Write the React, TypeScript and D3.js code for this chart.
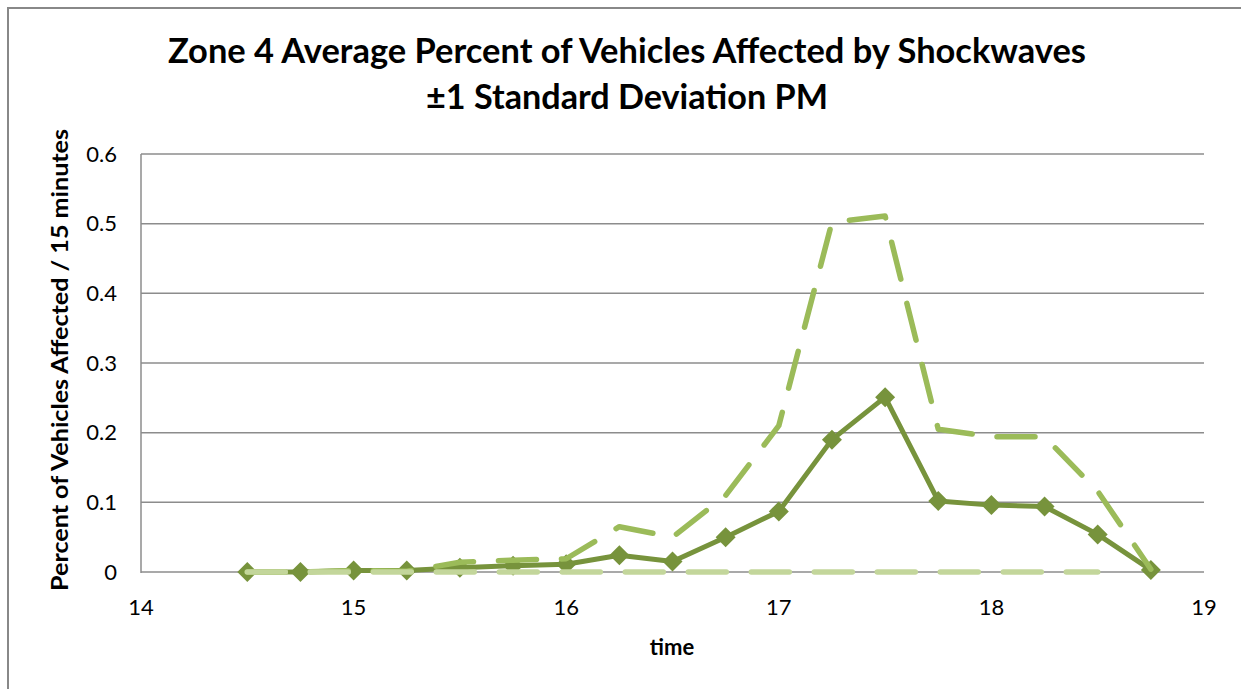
import React from "react";
import * as d3 from "d3";

const times = [14.5, 14.75, 15, 15.25, 15.5, 15.75, 16, 16.25, 16.5, 16.75, 17, 17.25, 17.5, 17.75, 18, 18.25, 18.5, 18.75];
const meanValues = [0, 0, 0.002, 0.002, 0.006, 0.009, 0.011, 0.024, 0.015, 0.05, 0.087, 0.19, 0.251, 0.102, 0.096, 0.094, 0.054, 0.003];
const upperValues = [0, 0, 0.002, 0.001, 0.014, 0.017, 0.019, 0.065, 0.05, 0.11, 0.21, 0.502, 0.511, 0.205, 0.194, 0.194, 0.116, 0.004];
const lowerValues = [0, 0, 0, 0, 0, 0, 0, 0, 0, 0, 0, 0, 0, 0, 0, 0, 0];
const xTicks = [14, 15, 16, 17, 18, 19];
const yTicks = [0, 0.1, 0.2, 0.3, 0.4, 0.5, 0.6];
const titleLines = ["Zone 4 Average Percent of Vehicles Affected by Shockwaves", "±1 Standard Deviation PM"];
const xTitle = "time";
const yTitle = "Percent of Vehicles Affected / 15 minutes";

const W = 1241;
const H = 689;
const FONT = "Lato, 'Open Sans', sans-serif";

export default function App() {
  const x = d3.scaleLinear().domain([14, 19]).range([141, 1204]);
  const y = d3.scaleLinear().domain([0, 0.6]).range([572, 154]);

  const mk = (vals: number[]) =>
    d3.line<number>().x((_, i) => x(times[i])).y((v) => y(v))(vals) || "";

  const diamond = (cx: number, cy: number, r: number) =>
    `M${cx},${cy - r}L${cx + r},${cy}L${cx},${cy + r}L${cx - r},${cy}Z`;

  return (
    <svg width={W} height={H} style={{ position: "absolute", left: 0, top: 0 }}>
      <rect x={0} y={0} width={W} height={H} fill="#fff" />
      <rect x={8} y={8} width={W + 10} height={H + 10} fill="none" stroke="#888" strokeWidth={2} />
      {/* title */}
      <text x={627} y={63} textAnchor="middle" fontFamily={FONT} fontWeight="bold" fontSize={34} fill="#000" textLength={918} lengthAdjust="spacingAndGlyphs">
        {titleLines[0]}
      </text>
      <text x={627} y={109} textAnchor="middle" fontFamily={FONT} fontWeight="bold" fontSize={34} fill="#000" textLength={402} lengthAdjust="spacingAndGlyphs">
        {titleLines[1]}
      </text>
      {/* gridlines */}
      {yTicks.map((t) => (
        <line key={"g" + t} x1={x(14)} x2={x(19)} y1={y(t)} y2={y(t)} stroke="#8c8c8c" strokeWidth={1.5} />
      ))}
      <line x1={x(14)} x2={x(14)} y1={y(0.6)} y2={y(0) + 1} stroke="#8c8c8c" strokeWidth={1.5} />
      {/* y tick labels */}
      {yTicks.map((t) => (
        <text key={"yl" + t} x={117} y={y(t) + 7.5} textAnchor="end" fontFamily={FONT} fontSize={22} fill="#000">
          {t === 0 ? "0" : d3.format(".1f")(t)}
        </text>
      ))}
      {/* x tick labels */}
      {xTicks.map((t) => (
        <text key={"xl" + t} x={x(t)} y={615} textAnchor="middle" fontFamily={FONT} fontSize={22} fill="#000">
          {t}
        </text>
      ))}
      <text x={672} y={655} textAnchor="middle" fontFamily={FONT} fontWeight="bold" fontSize={22} fill="#000">
        {xTitle}
      </text>
      <text
        transform={`translate(68,360) rotate(-90)`}
        textAnchor="middle"
        fontFamily={FONT}
        fontWeight="bold"
        fontSize={22}
        fill="#000"
        textLength={462}
        lengthAdjust="spacingAndGlyphs"
      >
        {yTitle}
      </text>
      {/* mean series */}
      <path d={mk(meanValues)} fill="none" stroke="#77933c" strokeWidth={5} strokeLinejoin="round" />
      {meanValues.map((v, i) => (
        <path key={"d" + i} d={diamond(x(times[i]), y(v), 10)} fill="#77933c" />
      ))}
      {/* upper series */}
      <path d={mk(upperValues)} fill="none" stroke="#9bbb59" strokeWidth={5.5} strokeDasharray="38 25" strokeLinecap="round" strokeLinejoin="round" />
      {/* lower series */}
      <path d={mk(lowerValues)} fill="none" stroke="#c3d69b" strokeWidth={5.5} strokeDasharray="38 25" strokeLinecap="round" strokeLinejoin="round" />
    </svg>
  );
}
